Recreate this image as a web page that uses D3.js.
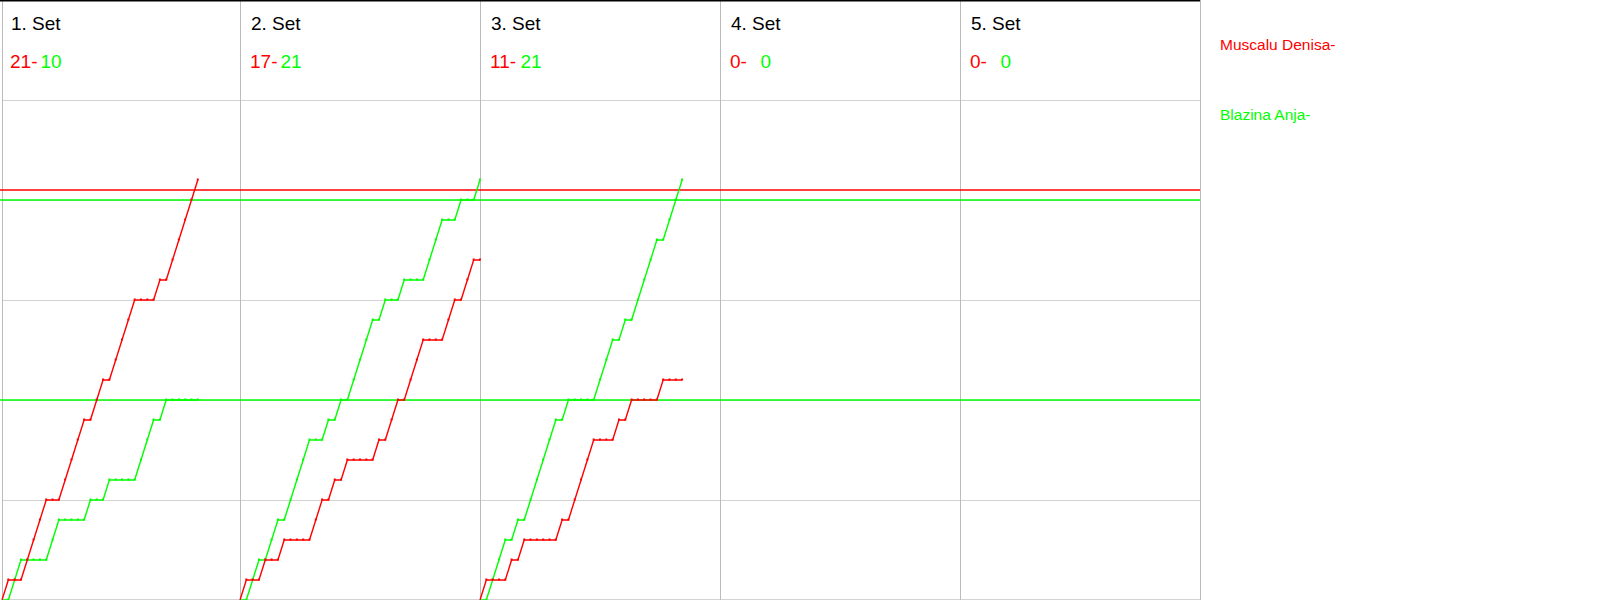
<!DOCTYPE html>
<html>
<head>
<meta charset="utf-8">
<script src="https://cdn.jsdelivr.net/npm/d3@7"></script>
<style>
  html, body { margin: 0; padding: 0; background: #fff; }
  svg { display: block; }
  text { font-family: "Liberation Sans", Arial, sans-serif; }
</style>
</head>
<body>
<svg id="chart" width="1600" height="600"></svg>
<script>
// ---- data ----
const setTitles = ["1. Set", "2. Set", "3. Set", "4. Set", "5. Set"];
const redScores = [21, 17, 11, 0, 0];
const greenScores = [10, 21, 21, 0, 0];
const players = ["Muscalu Denisa", "Blazina Anja"];
// rally winners per set: R = Muscalu Denisa, G = Blazina Anja
const rallies = [
  "RGGRRRRGGRRRRGRRGRRRRGGGRGRRRRR",
  "RGGRGGRGGGGRRGRGRGGGGRGRRGRRRGGGRRGRRG",
  "RGGGRGRGGGGGRGRRRRGGGRGRGGGGRGGG",
  "",
  ""
];
const redRefLines = [20.5];
const greenRefLines = [10, 20];
const gridScores = [0, 5, 10, 15, 20, 25];

const RED = "#ff0000", GREEN = "#00ff00";

const svg = d3.select("#chart");
const chartW = 1200;
const panelX = d3.scaleLinear().domain([0, 5]).range([0, chartW]);
const panelOrigin = k => Math.max(panelX(k), 2);
const y = d3.scaleLinear().domain([0, 30]).range([600, 0]);
const xr = d3.scaleLinear().domain([0, 38]).range([0, 240]);

// horizontal grid
svg.append("g").selectAll("line").data(gridScores).join("line")
  .attr("x1", 2).attr("x2", chartW)
  .attr("y1", d => Math.min(Math.round(y(d)) + 0.5, 599.5))
  .attr("y2", d => Math.min(Math.round(y(d)) + 0.5, 599.5))
  .attr("stroke", "#d3d3d3").attr("stroke-width", 1)
  .attr("shape-rendering", "crispEdges");

// vertical panel lines
svg.append("g").selectAll("line").data(d3.range(6)).join("line")
  .attr("x1", k => Math.round(panelOrigin(k)) + 0.5)
  .attr("x2", k => Math.round(panelOrigin(k)) + 0.5)
  .attr("y1", 0).attr("y2", 600)
  .attr("stroke", "#bbbbbb").attr("stroke-width", 1)
  .attr("shape-rendering", "crispEdges");

// top border
svg.append("line").attr("x1", 0).attr("x2", chartW).attr("y1", 0.75).attr("y2", 0.75)
  .attr("stroke", "#000").attr("stroke-width", 1.5);

// reference lines
svg.append("g").selectAll("line").data(redRefLines).join("line")
  .attr("x1", 0).attr("x2", chartW)
  .attr("y1", d => y(d)).attr("y2", d => y(d))
  .attr("stroke", RED).attr("stroke-width", 1.3);
svg.append("g").selectAll("line").data(greenRefLines).join("line")
  .attr("x1", 0).attr("x2", chartW)
  .attr("y1", d => y(d)).attr("y2", d => y(d))
  .attr("stroke", GREEN).attr("stroke-width", 1.3);

// headers
const hdr = svg.append("g");
setTitles.forEach((t, k) => {
  const x0 = panelX(k);
  hdr.append("text").attr("x", x0 + 11).attr("y", 30)
    .attr("font-size", 19).attr("fill", "#000").text(t);
  hdr.append("text").attr("x", x0 + 10).attr("y", 68)
    .attr("font-size", 19).attr("fill", RED).text(redScores[k] + "-");
  hdr.append("text").attr("x", x0 + 40.5).attr("y", 68)
    .attr("font-size", 19).attr("fill", GREEN).text(greenScores[k]);
});

// progression lines
const line = d3.line().x(d => d.x).y(d => d.y);
rallies.forEach((seq, k) => {
  if (!seq.length) return;
  const ox = panelOrigin(k);
  let r = 0, g = 0;
  const rp = [{ x: ox, y: y(0) }], gp = [{ x: ox, y: y(0) }];
  seq.split("").forEach((w, i) => {
    if (w === "R") r++; else g++;
    rp.push({ x: ox + xr(i + 1), y: y(r) });
    gp.push({ x: ox + xr(i + 1), y: y(g) });
  });
  [[gp, GREEN], [rp, RED]].forEach(([pts, col]) => {
    svg.append("path").datum(pts).attr("d", line)
      .attr("fill", "none").attr("stroke", col).attr("stroke-width", 1.4);
    svg.append("g").selectAll("rect").data(pts.slice(1)).join("rect")
      .attr("x", d => d.x - 1).attr("y", d => d.y - 1.5)
      .attr("width", 2).attr("height", 2).attr("fill", col);
  });
});

// legend
svg.append("text").attr("x", 1220).attr("y", 50).attr("font-size", 15.5)
  .attr("fill", RED).text(players[0] + "-");
svg.append("text").attr("x", 1220).attr("y", 120).attr("font-size", 15.5)
  .attr("fill", GREEN).text(players[1] + "-");
</script>
</body>
</html>
